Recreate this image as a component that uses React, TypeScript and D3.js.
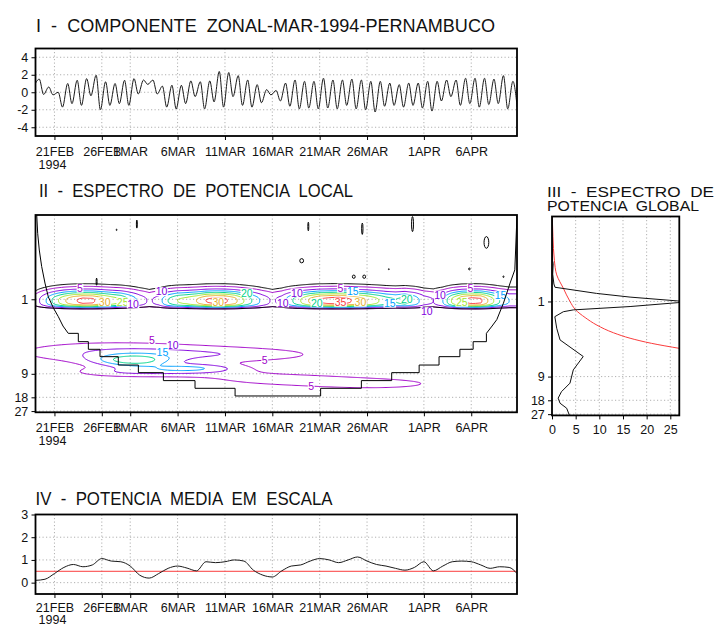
import { useEffect, useRef } from "react";
import * as d3 from "d3";

// Wavelet panels for the hourly zonal wind record, Pernambuco 1994.
// Time is kept in days after 19FEB1994 00Z; the record ends 10APR 20Z.

const FONT = "'Liberation Sans', Arial, Helvetica, sans-serif";
const GRID = "#b0b0b0";

const START = Date.UTC(1994, 1, 19);
const RECORD_DAYS = 50.83;
const dateTicks = [2, 7, 10, 15, 20, 25, 30, 35, 41, 46];

// I - zonal component: daily maximum (~09h) and minimum (~20h)
const windFirst = 1.05;
const windMax = [1.5, 0.6, 0.0, 1.0, 1.37, 1.56, 1.94, 1.2, 1.0, 1.37,
  1.56, 1.4, 1.4, 0.7, 0.8, 0.8, 1.3, 1.2, 1.3, 2.38,
  2.26, 1.9, 1.4, 0.87, 0.3, 0.2, 1.05, 1.4, 1.25, 1.25,
  1.6, 1.4, 1.4, 1.5, 1.4, 1.25, 1.25, 1.05, 0.87, 1.05,
  1.05, 1.25, 1.25, 1.4, 1.4, 1.6, 1.6, 1.6, 1.5, 1.9, 1.25];
const windMin = [-0.25, -0.3, -1.7, -1.3, -1.5, -0.4, -2.0, -1.5, -1.3, -1.5,
  -0.2, 0.9, -0.2, -1.7, -1.9, -1.3, -0.5, -1.9, -1.1, -1.7,
  -0.5, -1.5, -1.7, -1.2, -0.3, -1.0, -1.6, -1.9, -1.8, -1.9,
  -1.8, -1.9, -1.5, -1.9, -2.0, -2.26, -1.6, -1.5, -1.7, -1.5,
  -1.8, -2.15, -1.0, -0.5, -1.5, -1.3, -1.7, -1.4, -1.3, -1.9, -1.7];
const windTicks = [-4, -2, 0, 2, 4];

// II - local power: diurnal band strength per day (period ~1 day)
const bandPeriod = 1.02;
const bandSpreadShort = 0.29; // octaves, towards shorter periods
const bandSpreadLong = 0.27;  // octaves, towards longer periods
const diurnalPower = [7, 14, 22, 29, 34, 36.5, 36, 32, 28, 25,
  19, 13, 9, 12, 20, 25, 27, 30, 35, 37,
  36, 32, 25, 19, 13, 9, 12, 19, 25, 31,
  35.5, 37, 38, 36, 33, 30, 26, 22, 20, 22,
  18, 12, 10, 15, 26, 34, 37, 36, 28, 20, 15];

// II - the synoptic patch (periods 3-13 days) read as a few lobes
const blobDay = [10.3, 8, 21, 16.5, 9, 16, 26, 36];
const blobPeriod = [6.1, 4.75, 5.1, 7.6, 8.6, 8.3, 10.6, 12.1];
const blobPower = [17, 9, 7, 9, 6, 6.5, 6.5, 6.5];
const blobSpanDays = [2.8, 8, 8, 3.2, 4, 6, 6, 6];
const blobSpanOct = [0.18, 0.35, 0.25, 0.13, 0.15, 0.2, 0.2, 0.2];

const contourLevels = [5, 10, 15, 20, 25, 30, 35];
const contourColors = ["rgb(160,0,200)", "rgb(130,0,220)", "rgb(0,160,255)",
  "rgb(0,210,140)", "rgb(160,230,50)", "rgb(230,175,45)", "rgb(250,60,60)"];

const labelLevel = [5, 30, 25, 10, 10, 30, 20, 10, 10, 20, 5, 35, 15, 30, 15, 20, 10, 10, 25, 5, 15,
  5, 10, 15, 5, 5];
const labelDay = [4.7, 7.3, 9.2, 10.3, 13.3, 19.3, 22.3, 26.1, 27.6, 29.7, 32.2, 32.2, 33.5, 34.3,
  37.4, 39.2, 41.3, 42.7, 45, 45.9, 49.1, 12.3, 14.5, 13.4, 24.2, 29.1];
const labelPeriod = [0.72, 1.08, 1.08, 1.15, 0.8, 1.08, 0.83, 1.11, 0.83, 1.11, 0.72, 1.09, 0.8, 1.09,
  1.12, 0.99, 1.44, 0.88, 1.09, 0.72, 0.9, 3.3, 3.85, 4.7, 6.0, 12.8];

// cone of influence (smooth ends, stepped middle)
const coiLeftDay = [0.13, 0.23, 0.4, 0.65, 1.0, 1.35, 1.9, 2.41, 2.9, 3.46];
const coiLeftPeriod = [0.083, 0.143, 0.234, 0.38, 0.62, 0.93, 1.3, 1.67, 2.2, 2.73];
const coiStepDay = [3.46, 4.52, 5.58, 6.81, 8.74, 10.86, 13.5, 16.84, 21.07,
  30.1, 34.4, 37.6, 40.5, 42.6, 44.8, 46.2, 47.6];
const coiStepPeriod = [2.73, 3.49, 4.37, 5.43, 6.95, 8.7, 11.0, 13.8, 17.3,
  13.8, 11.0, 8.7, 6.95, 5.43, 4.37, 3.49, 2.73];
const coiRightDay = [47.6, 48.2, 48.7, 49.4, 50.1, 50.6, 50.83];
const coiRightPeriod = [2.73, 2.2, 1.82, 1.12, 0.62, 0.42, 0.083];

// small significant spots at short periods
const spotDay = [10.7, 8.56, 28.8, 34.5, 39.8, 47.6, 28.1, 33.6, 34.7, 37.3, 45.8, 49.4, 6.45];
const spotPeriod = [0.109, 0.129, 0.117, 0.125, 0.109, 0.187, 0.321, 0.514, 0.514, 0.412, 0.409, 0.514, 0.595];
const spotHalfDay = [0.05, 0.04, 0.05, 0.07, 0.1, 0.25, 0.2, 0.15, 0.15, 0.05, 0.08, 0.06, 0.05];
const spotHalfOct = [0.17, 0.03, 0.18, 0.24, 0.32, 0.25, 0.09, 0.07, 0.07, 0.02, 0.04, 0.03, 0.15];

const periodTicks = [1, 9, 18, 27];

// III - global spectrum and its significance
const globalPeriod = [0.083, 0.2, 0.3, 0.33, 0.45, 0.6, 0.66, 0.79, 0.88, 0.985, 1.0, 1.035, 1.16,
  1.28, 1.35, 1.56, 2.19, 3.08, 5.0, 7.4, 10.9, 14.0, 16.9, 19.6, 22.7, 27.6];
const globalPower = [0.0, 0.05, 0.1, 0.25, 0.15, 0.4, 0.63, 9.4, 16.5, 26.6, 28, 26.6, 16.5,
  4.5, 2.4, 0.6, 1.0, 1.7, 6.6, 4.5, 3.8, 2.0, 1.3, 1.7, 3.1, 3.65];
const signifPeriod = [0.083, 0.15, 0.3, 0.46, 0.68, 1.0, 1.28, 1.6, 2.0, 2.5, 2.93, 3.4, 3.95];
const signifPower = [0.05, 0.2, 0.5, 1.0, 2.4, 3.8, 5.0, 7.0, 9.5, 13, 16.5, 21, 27];
const globalTicks = [0, 5, 10, 15, 20, 25];

// IV - scale-averaged power, one value per day at 00Z
const scalePower = [0.1, 0.15, 0.4, 0.67, 0.8, 0.7, 0.78, 1.06, 0.95, 0.92,
  0.73, 0.33, 0.2, 0.4, 0.63, 0.73, 0.64, 0.52, 0.92, 0.88,
  0.92, 1.0, 0.95, 0.55, 0.33, 0.25, 0.52, 0.73, 0.78, 0.95,
  1.06, 1.0, 0.88, 1.0, 1.13, 0.95, 0.8, 0.73, 0.63, 0.55,
  0.67, 0.92, 0.52, 0.73, 0.92, 0.95, 0.92, 0.78, 0.63, 0.7, 0.67];
const scalePowerLast = 0.4;
const scaleSignif = 0.5;
const scaleTicks = [0, 1, 2, 3];

export default function App() {
  const ref = useRef<SVGSVGElement | null>(null);

  useEffect(() => {
    if (!ref.current) return;
    const svg = d3.select(ref.current);
    svg.selectAll("*").remove();

    const L = 35.5, R = 517;
    const x = d3.scaleLinear().domain([0, RECORD_DAYS]).range([L, R]);
    const yT = d3.scaleLinear().domain([-5, 5]).range([136, 48.5]);
    const yM = d3.scaleLog().base(2).domain([1 / 12, 28]).range([215, 412.3]);
    const yR = d3.scaleLog().base(2).domain([1 / 12, 28]).range([216.5, 415.4]);
    const xR = d3.scaleLinear().domain([0, 26.9]).range([552, 679.3]);
    const yB = d3.scaleLinear().domain([-0.5, 3]).range([594, 514.5]);

    const dateLabel = (d: number) =>
      d3.utcFormat("%-d%b")(new Date(START + d * 864e5)).toUpperCase();

    const defs = svg.append("defs");
    const clip = (id: string, x0: number, x1: number, y0: number, y1: number) =>
      defs.append("clipPath").attr("id", id).append("rect")
        .attr("x", x0).attr("y", y0).attr("width", x1 - x0).attr("height", y1 - y0);
    clip("cT", L, R, yT(5), yT(-5));
    clip("cM", L, R, yM(1 / 12), yM(28));
    clip("cR", xR(0), xR(26.9), yR(1 / 12), yR(28));
    clip("cB", L, R, yB(3), yB(-0.5));

    const title = (txt: string, x0: number, y0: number, len: number, size: number) =>
      svg.append("text")
        .attr("x", x0).attr("y", y0)
        .attr("font-family", FONT).attr("font-size", size)
        .attr("textLength", len).attr("lengthAdjust", "spacingAndGlyphs")
        .style("white-space", "pre")
        .attr("fill", "#111")
        .text(txt);

    const gridLines = (xs: number[], ys: number[], x0: number, x1: number, y0: number, y1: number) => {
      const g = svg.append("g").attr("stroke", GRID).attr("stroke-width", 1)
        .attr("stroke-dasharray", "1.2 2.3");
      xs.forEach((v) => g.append("line").attr("x1", v).attr("x2", v).attr("y1", y0).attr("y2", y1));
      ys.forEach((v) => g.append("line").attr("x1", x0).attr("x2", x1).attr("y1", v).attr("y2", v));
    };

    const styleAxis = (g: d3.Selection<SVGGElement, unknown, null, undefined>) => {
      g.select(".domain").remove();
      g.selectAll("line").attr("stroke", "#000").attr("stroke-width", 1);
      g.selectAll("text").attr("font-family", FONT).attr("font-size", 12.5).attr("fill", "#111");
    };

    const leftAxis = (scale: any, ticks: number[], x0: number) => {
      const g = svg.append("g").attr("transform", `translate(${x0},0)`)
        .call(d3.axisLeft(scale).tickValues(ticks).tickFormat((d: any) => String(d))
          .tickSize(4).tickPadding(3.2));
      styleAxis(g);
    };

    const timeAxis = (y0: number, pad: number, yearDrop: number) => {
      const g = svg.append("g").attr("transform", `translate(0,${y0})`)
        .call(d3.axisBottom(x).tickValues(dateTicks).tickFormat((d: any) => dateLabel(+d))
          .tickSize(4).tickPadding(pad));
      styleAxis(g);
      svg.append("text")
        .attr("x", x(dateTicks[0]) - 2).attr("y", y0 + yearDrop)
        .attr("text-anchor", "middle")
        .attr("font-family", FONT).attr("font-size", 12.5).attr("fill", "#111")
        .text("1994");
    };

    const frame = (x0: number, x1: number, y0: number, y1: number) =>
      svg.append("rect").attr("x", x0).attr("y", y0).attr("width", x1 - x0).attr("height", y1 - y0)
        .attr("fill", "none").attr("stroke", "#000").attr("stroke-width", 1.8);

    const dateX = dateTicks.map((d) => x(d));

    // ---------- I: zonal component ----------
    title("I  -  COMPONENTE  ZONAL-MAR-1994-PERNAMBUCO", 36, 31.5, 459, 18);
    gridLines(dateX, windTicks.map((v) => yT(v)), L, R, yT(5), yT(-5));
    const windPts: [number, number][] = [[0, windFirst]];
    windMax.forEach((v, i) => {
      windPts.push([i + 0.4, v]);
      windPts.push([i + 0.85, windMin[i]]);
    });
    svg.append("path")
      .attr("clip-path", "url(#cT)")
      .attr("d", d3.line<[number, number]>().x((d) => x(d[0])).y((d) => yT(d[1]))
        .curve(d3.curveMonotoneX)(windPts))
      .attr("fill", "none").attr("stroke", "#1a1a1a").attr("stroke-width", 1);
    frame(L, R, yT(5), yT(-5));
    leftAxis(yT, windTicks, L);
    timeAxis(yT(-5), 7, 33);

    // ---------- II: local power spectrum ----------
    title("II  -  ESPECTRO  DE  POTENCIA  LOCAL", 39, 196.5, 314, 18);
    gridLines(dateX, periodTicks.map((p) => yM(p)), L, R, yM(1 / 12), yM(28));

    const lpLo = Math.log2(1 / 12), lpHi = Math.log2(28);
    const dt = 0.1, dl = 0.04;
    const nx = Math.ceil(RECORD_DAYS / dt) + 2;
    const ny = Math.ceil((lpHi - lpLo) / dl) + 2;
    const bandAt = d3.scaleLinear<number>()
      .domain(d3.range(diurnalPower.length)).range(diurnalPower).clamp(true);
    const sigAt = d3.scaleLog<number>().domain(signifPeriod).range(signifPower);
    const lpBand = Math.log2(bandPeriod);
    const blobLp = blobPeriod.map((p) => Math.log2(p));

    const power = (t: number, lp: number) => {
      const u = lp - lpBand;
      let v = bandAt(t) * (u < 0
        ? Math.exp(-0.5 * (u / bandSpreadShort) ** 2)
        : Math.exp(-0.5 * (u / bandSpreadLong) ** 4));
      for (let k = 0; k < blobDay.length; k++) {
        const a = (t - blobDay[k]) / blobSpanDays[k];
        const b = (lp - blobLp[k]) / blobSpanOct[k];
        v += blobPower[k] * Math.exp(-0.5 * (a * a + b * b));
      }
      return v;
    };

    const field: number[] = new Array(nx * ny);
    const ratio: number[] = new Array(nx * ny);
    for (let j = 0; j < ny; j++) {
      const lp = lpLo + j * dl;
      const s = sigAt(2 ** lp);
      for (let i = 0; i < nx; i++) {
        const v = power(i * dt, lp);
        field[j * nx + i] = v;
        ratio[j * nx + i] = v / s;
      }
    }

    const gridProj = d3.geoTransform({
      point(gx: number, gy: number) {
        (this as any).stream.point(x((gx - 0.5) * dt), yM(2 ** (lpLo + (gy - 0.5) * dl)));
      },
    });
    const gridPath = d3.geoPath(gridProj);

    const mid = svg.append("g").attr("clip-path", "url(#cM)");
    const bands = d3.contours().size([nx, ny]).thresholds(contourLevels)(field);
    mid.selectAll("path.lvl").data(bands).join("path")
      .attr("class", "lvl")
      .attr("d", (d) => gridPath(d as any))
      .attr("fill", "none")
      .attr("stroke", (_d, i) => contourColors[i])
      .attr("stroke-width", 1);

    const signif = d3.contours().size([nx, ny]).thresholds([1])(ratio);
    mid.selectAll("path.sig").data(signif).join("path")
      .attr("class", "sig")
      .attr("d", (d) => gridPath(d as any))
      .attr("fill", "none").attr("stroke", "#000").attr("stroke-width", 1);

    const pxPerOct = yM(2) - yM(1);
    const pxPerDay = x(1) - x(0);
    spotDay.forEach((d, k) => {
      mid.append("ellipse")
        .attr("cx", x(d)).attr("cy", yM(spotPeriod[k]))
        .attr("rx", spotHalfDay[k] * pxPerDay).attr("ry", spotHalfOct[k] * pxPerOct)
        .attr("fill", "none").attr("stroke", "#000").attr("stroke-width", 1);
    });

    // contour labels
    labelLevel.forEach((lev, k) => {
      const txt = String(lev);
      const g = mid.append("g").attr("transform", `translate(${x(labelDay[k])},${yM(labelPeriod[k])})`);
      const w = txt.length * 5.8 + 1;
      g.append("rect").attr("x", -w / 2).attr("y", -4.5).attr("width", w).attr("height", 9).attr("fill", "#fff");
      g.append("text")
        .attr("text-anchor", "middle").attr("dy", "0.36em")
        .attr("font-family", FONT).attr("font-size", 10.5)
        .attr("fill", contourColors[contourLevels.indexOf(lev)])
        .text(txt);
    });

    const zip = (a: number[], b: number[]) => a.map((v, i) => [v, b[i]] as [number, number]);
    const coiLine = d3.line<[number, number]>().x((d) => x(d[0])).y((d) => yM(d[1]));
    const coi = mid.append("g").attr("fill", "none").attr("stroke", "#000").attr("stroke-width", 1);
    coi.append("path").attr("d", coiLine.curve(d3.curveLinear)(zip(coiLeftDay, coiLeftPeriod)));
    coi.append("path").attr("d", coiLine.curve(d3.curveStepAfter)(zip(coiStepDay, coiStepPeriod)));
    coi.append("path").attr("d", coiLine.curve(d3.curveLinear)(zip(coiRightDay, coiRightPeriod)));

    frame(L, R, yM(1 / 12), yM(28));
    leftAxis(yM, periodTicks, L);
    timeAxis(yM(28), 7, 33);

    // ---------- III: global spectrum ----------
    title("III  -  ESPECTRO  DE", 547, 196.5, 167, 15);
    title("POTENCIA  GLOBAL", 547, 210.5, 152, 15);
    gridLines(globalTicks.slice(1).map((v) => xR(v)), periodTicks.map((p) => yR(p)),
      xR(0), xR(26.9), yR(1 / 12), yR(28));
    const right = svg.append("g").attr("clip-path", "url(#cR)").attr("fill", "none").attr("stroke-width", 1);
    const specLine = d3.line<[number, number]>().x((d) => xR(d[1])).y((d) => yR(d[0]));
    right.append("path")
      .attr("d", specLine.curve(d3.curveMonotoneY)(zip(signifPeriod, signifPower)))
      .attr("stroke", "rgb(250,60,60)");
    right.append("path")
      .attr("d", specLine.curve(d3.curveLinear)(zip(globalPeriod, globalPower)))
      .attr("stroke", "#111");
    frame(xR(0), xR(26.9), yR(1 / 12), yR(28));
    leftAxis(yR, periodTicks, xR(0));
    const gx = svg.append("g").attr("transform", `translate(0,${yR(28)})`)
      .call(d3.axisBottom(xR).tickValues(globalTicks).tickFormat((d: any) => String(d))
        .tickSize(4).tickPadding(6));
    styleAxis(gx);

    // ---------- IV: scale-averaged power ----------
    title("IV  -  POTENCIA  MEDIA  EM  ESCALA", 35.5, 505, 297, 18);
    gridLines(dateX, scaleTicks.map((v) => yB(v)), L, R, yB(3), yB(-0.5));
    const bot = svg.append("g").attr("clip-path", "url(#cB)").attr("fill", "none").attr("stroke-width", 1);
    const avgPts: [number, number][] = scalePower.map((v, i) => [i, v] as [number, number]);
    avgPts.push([RECORD_DAYS, scalePowerLast]);
    bot.append("line")
      .attr("x1", L).attr("x2", R).attr("y1", yB(scaleSignif)).attr("y2", yB(scaleSignif))
      .attr("stroke", "rgb(250,60,60)");
    bot.append("path")
      .attr("d", d3.line<[number, number]>().x((d) => x(d[0])).y((d) => yB(d[1]))
        .curve(d3.curveMonotoneX)(avgPts))
      .attr("stroke", "#1a1a1a");
    frame(L, R, yB(3), yB(-0.5));
    leftAxis(yB, scaleTicks, L);
    timeAxis(yB(-0.5), 5.5, 30);
  }, []);

  return (
    <svg
      ref={ref}
      width={716}
      height={628}
      style={{ position: "absolute", left: 0, top: 0, background: "#fff" }}
    />
  );
}
